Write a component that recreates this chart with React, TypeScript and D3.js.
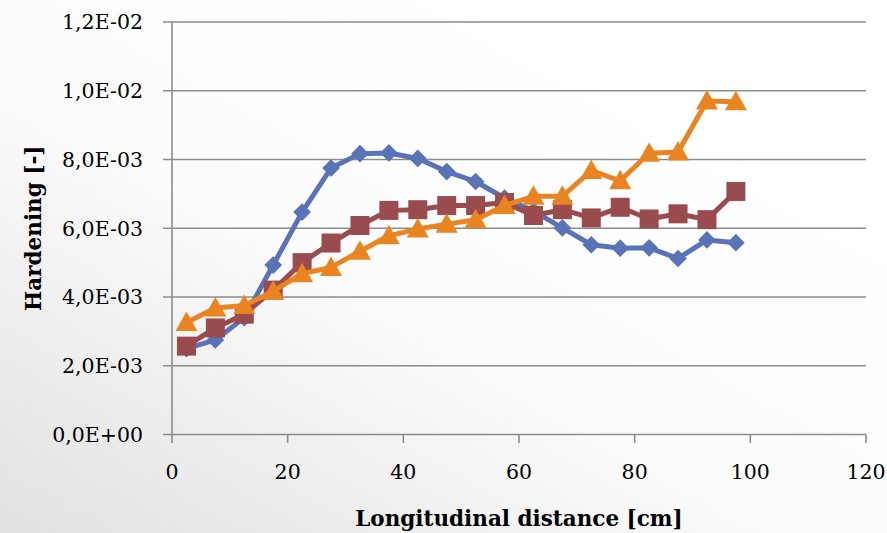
import React from "react";
import * as d3 from "d3";

const distances = [2.5, 7.5, 12.5, 17.5, 22.5, 27.5, 32.5, 37.5, 42.5, 47.5, 52.5, 57.5, 62.5, 67.5, 72.5, 77.5, 82.5, 87.5, 92.5, 97.5];
const seriesDiamond = [2.5e-3, 2.75e-3, 3.4e-3, 4.93e-3, 6.47e-3, 7.75e-3, 8.17e-3, 8.19e-3, 8.03e-3, 7.65e-3, 7.36e-3, 6.88e-3, 6.5e-3, 6.01e-3, 5.52e-3, 5.42e-3, 5.43e-3, 5.12e-3, 5.66e-3, 5.58e-3];
const seriesSquare = [2.57e-3, 3.1e-3, 3.5e-3, 4.2e-3, 5.0e-3, 5.57e-3, 6.08e-3, 6.52e-3, 6.54e-3, 6.66e-3, 6.66e-3, 6.75e-3, 6.37e-3, 6.54e-3, 6.3e-3, 6.61e-3, 6.27e-3, 6.42e-3, 6.25e-3, 7.07e-3];
const seriesTriangle = [3.26e-3, 3.68e-3, 3.75e-3, 4.17e-3, 4.68e-3, 4.86e-3, 5.33e-3, 5.78e-3, 5.98e-3, 6.12e-3, 6.25e-3, 6.66e-3, 6.93e-3, 6.93e-3, 7.68e-3, 7.38e-3, 8.18e-3, 8.22e-3, 9.7e-3, 9.68e-3];
const xTicks = [0, 20, 40, 60, 80, 100, 120];
const yTicks = [0, 2e-3, 4e-3, 6e-3, 8e-3, 10e-3, 12e-3];

const W = 887;
const H = 533;
const left = 172;
const right = 866;
const top = 22;
const bottom = 434.5;
const FONT = "'DejaVu Serif', 'Liberation Serif', serif";

const x = d3.scaleLinear().domain([0, 120]).range([left, right]);
const y = d3.scaleLinear().domain([0, 12e-3]).range([bottom, top]);

// Excel-style scientific label with comma decimal: 1,2E-02
const sci = (v: number) => {
  if (v === 0) return "0,0E+00";
  const e = Math.floor(Math.log10(v) + 1e-9);
  const m = v / Math.pow(10, e);
  const sign = e < 0 ? "-" : "+";
  const ee = String(Math.abs(e)).padStart(2, "0");
  return `${m.toFixed(1).replace(".", ",")}E${sign}${ee}`;
};

const BLUE = "#5a72b6";
const RED = "#9a4b4e";
const ORANGE = "#ea8420";

type Shape = "diamond" | "square" | "triangle";

const markerPath = (shape: Shape) => {
  if (shape === "diamond") return d3.symbol(d3.symbolDiamond2, 200)();
  if (shape === "square") return "M-9.5,-9.5H9.5V9.5H-9.5Z";
  return "M0,-11L11,8.5L-11,8.5Z";
};

const Series = ({ values, color, shape }: { values: number[]; color: string; shape: Shape }) => {
  const line = d3
    .line<number>()
    .x((_, i) => x(distances[i]))
    .y((v) => y(v));
  const m = markerPath(shape) as string;
  return (
    <g>
      <path d={line(values) as string} fill="none" stroke={color} strokeWidth={5} strokeLinejoin="round" />
      {values.map((v, i) => (
        <path key={i} d={m} transform={`translate(${x(distances[i])},${y(v)})`} fill={color} />
      ))}
    </g>
  );
};

export default function App() {
  return (
    <svg width={W} height={H} style={{ display: "block", position: "absolute", left: 0, top: 0 }}>
      <defs>
        <linearGradient id="bg" x1="0" y1="1" x2="0.75" y2="0.2">
          <stop offset="0" stopColor="#e1e1e1" />
          <stop offset="0.55" stopColor="#fbfbfb" />
          <stop offset="1" stopColor="#ffffff" />
        </linearGradient>
      </defs>
      <rect x={0} y={0} width={W} height={H} fill="url(#bg)" />

      {yTicks.map((t) => (
        <g key={t}>
          <line x1={163} x2={right} y1={y(t)} y2={y(t)} stroke="#8c8c8c" strokeWidth={1.6} />
          <text x={143} y={y(t)} dy="0.36em" textAnchor="end" fontFamily={FONT} fontSize={20.5} fill="#000">
            {sci(t)}
          </text>
        </g>
      ))}
      <line x1={left} x2={left} y1={top} y2={bottom} stroke="#8c8c8c" strokeWidth={1.6} />
      {xTicks.map((t) => (
        <g key={t}>
          <line x1={x(t)} x2={x(t)} y1={bottom} y2={bottom + 8.5} stroke="#8c8c8c" strokeWidth={1.6} />
          <text x={x(t)} y={472} dy="0.36em" textAnchor="middle" fontFamily={FONT} fontSize={20.5} fill="#000">
            {t}
          </text>
        </g>
      ))}

      <Series values={seriesDiamond} color={BLUE} shape="diamond" />
      <Series values={seriesSquare} color={RED} shape="square" />
      <Series values={seriesTriangle} color={ORANGE} shape="triangle" />

      <text x={(left + right) / 2} y={518} dy="0.36em" textAnchor="middle" fontFamily={FONT} fontSize={21.5} fontWeight="bold">
        Longitudinal distance [cm]
      </text>
      <text
        transform={`translate(33,${(top + bottom) / 2}) rotate(-90)`}
        dy="0.36em"
        textAnchor="middle"
        fontFamily={FONT}
        fontSize={21.5}
        fontWeight="bold"
      >
        Hardening [-]
      </text>
    </svg>
  );
}
